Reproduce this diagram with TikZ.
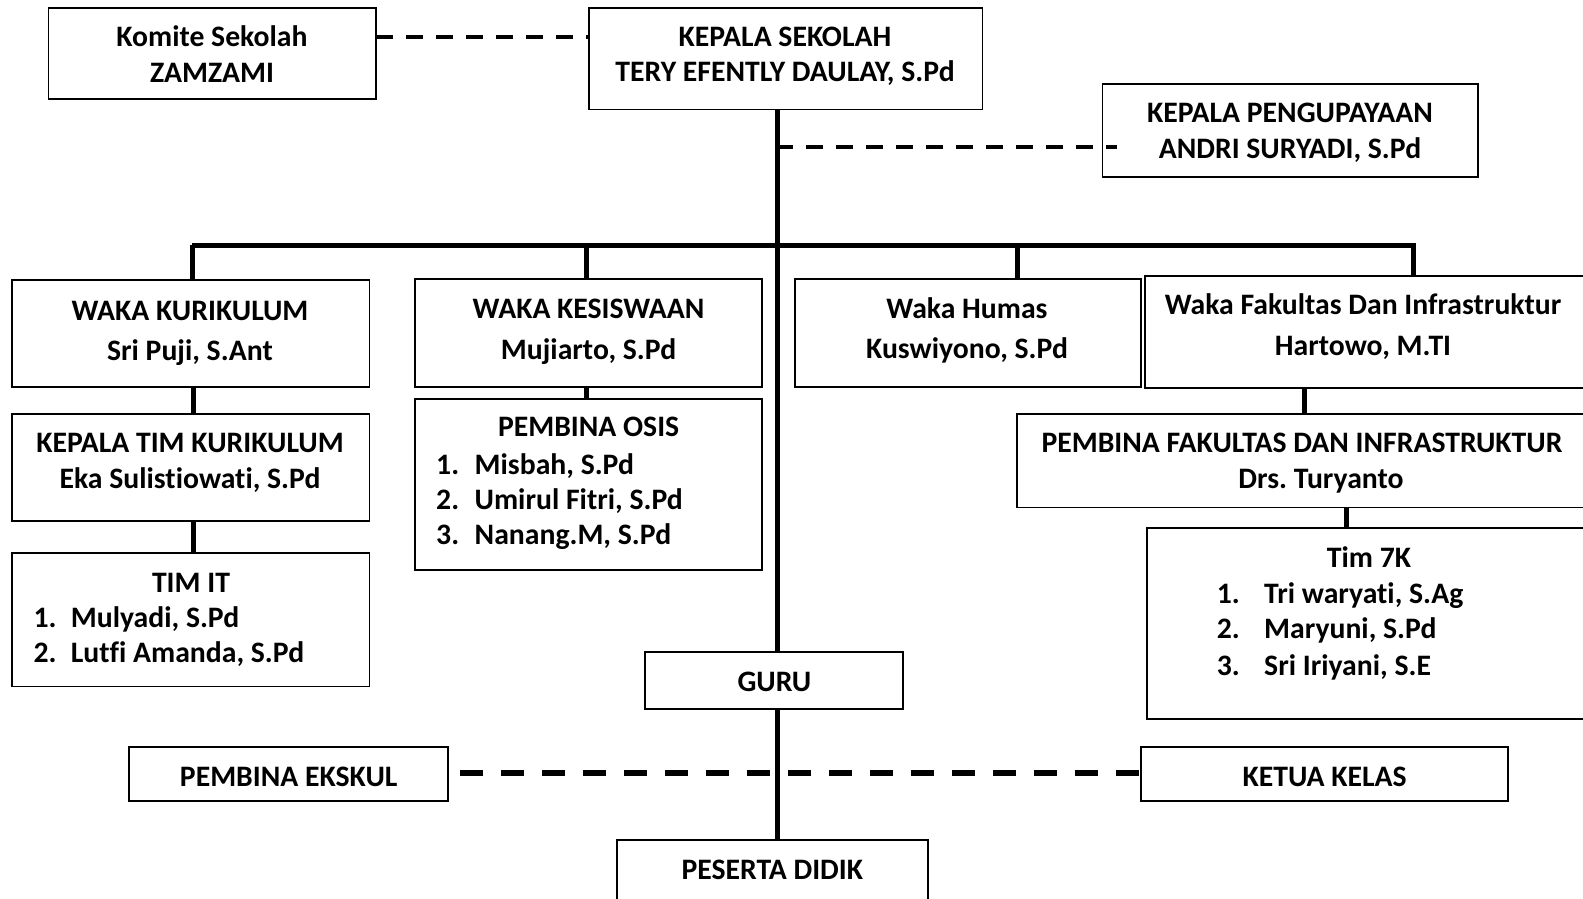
\documentclass[tikz,border=0pt]{standalone}
\usepackage{fontspec}
\setmainfont{Carlito}[Ligatures={NoCommon}]
\usetikzlibrary{calc}
\newcommand\obox[5]{\node[box, minimum width={#4-#2}, minimum height={#5-#3}] (#1) at ({(#2+#4)/2},{(#3+#5)/2}) {};}
\frenchspacing
\begin{document}
\begin{tikzpicture}[x=1pt,y=-1pt,
  box/.style={draw, line width=1.8pt, rectangle, inner sep=0pt, fill=white},
  txt/.style={font=\fontsize{29.7}{35}\selectfont\bfseries\frenchspacing, inner sep=0pt, anchor=base},
  txtl/.style={txt, anchor=base west},
  trunk/.style={line width=5pt},
  dashA/.style={line width=3.8pt, dash pattern=on 17pt off 13pt},
  dashB/.style={line width=6pt, dash pattern=on 23pt off 18pt}]
\clip (0,0) rectangle (1583,898);
\fill[white] (0,0) rectangle (1583,898);
% connectors first (boxes drawn over them)
\coordinate (bl) at (192,245);
\coordinate (br) at (1415.5,245);
\coordinate (b2) at (586.6,245);
\coordinate (b3) at (1017.7,245);
\coordinate (b4) at (1413.5,245);
\coordinate (t1) at (777.5,109.5);
\coordinate (t2) at (777.5,652);
\coordinate (t3) at (777.5,709);
\coordinate (t4) at (777.5,840);
\coordinate (tp) at (776,146.7);
\coordinate (kp0) at (1117,146.7);
\coordinate (pe0) at (460,773);
\coordinate (kk0) at (1141,773);
\coordinate (kom0) at (376,37);
\coordinate (ks0) at (589,37);
\draw[trunk] (t1) -- (t2);
\draw[trunk] (t3) -- (t4);
\draw[trunk] (bl) -- (br);
\draw[trunk] (bl) -- (192,279.7);
\draw[trunk] (b2) -- (586.6,278.6);
\draw[trunk] (b3) -- (1017.7,278.6);
\draw[trunk] (b4) -- (1413.5,275.7);
\draw[trunk] (193,386.7) -- (193,414);
\draw[trunk] (193,521) -- (193,553);
\draw[trunk] (586.6,386.7) -- (586.6,399);
\draw[trunk] (1304,387.7) -- (1304,414);
\draw[trunk] (1346,507.5) -- (1346,528);
\draw[dashB] (pe0) -- (kk0);
% boxes
\obox{kom}{48.5}{8}{375.6}{99}
\obox{ks}{588.6}{8}{982.5}{109.5}
\obox{kp}{1102.5}{84}{1478}{177}
\obox{wk}{12}{279.7}{369.5}{386.7}
\obox{wks}{415}{278.6}{762}{386.7}
\obox{wh}{794.6}{278.6}{1141}{386.7}
\obox{wf}{1145}{275.7}{1600}{387.7}
\obox{ktk}{12}{414}{369.5}{521}
\obox{tit}{12}{553}{369.5}{686.5}
\obox{osis}{415}{399}{762}{570}
\obox{pf}{1017}{414}{1600}{507.5}
\obox{t7}{1147}{528}{1600}{719}
\obox{guru}{645}{652}{903}{709}
\obox{pe}{129}{747}{448}{801}
\obox{kk}{1141}{747}{1508}{801}
\obox{pd}{617}{840}{928}{920}
% dashed links drawn over box edges
\draw[dashA] (tp) -- (kp0);
\draw[dashA] (kom0) -- (ks0);
% texts
\node[txt] (kom1) at (212,46) {Komite Sekolah};
\node[txt] (kom2) at (212,82.5) {ZAMZAMI};
\node[txt] (ks1) at (785,46) {KEPALA SEKOLAH};
\node[txt] (ks2) at (785,81.5) {TERY EFENTLY DAULAY, S.Pd};
\node[txt] (kp1) at (1290,122.8) {KEPALA PENGUPAYAAN};
\node[txt] (kp2) at (1290,158) {ANDRI SURYADI, S.Pd};
\node[txt] (wk1) at (190,320) {WAKA KURIKULUM};
\node[txt] (wk2) at (190,360) {Sri Puji, S.Ant};
\node[txt] (wks1) at (588.6,318.7) {WAKA KESISWAAN};
\node[txt] (wks2) at (588.6,359) {Mujiarto, S.Pd};
\node[txt] (wh1) at (967,318.7) {Waka Humas};
\node[txt] (wh2) at (967,358) {Kuswiyono, S.Pd};
\node[txt] (wf1) at (1363,314.7) {Waka Fakultas Dan Infrastruktur};
\node[txt] (wf2) at (1363,355) {Hartowo, M.TI};
\node[txt] (ktk1) at (190,452.9) {KEPALA TIM KURIKULUM};
\node[txt] (ktk2) at (190,488.2) {Eka Sulistiowati, S.Pd};
\node[txt] (tit0) at (191,592.2) {TIM IT};
\node[txtl] (tit1n) at (33.3,627.5) {1.};
\node[txtl] (tit1) at (70.7,627.5) {Mulyadi, S.Pd};
\node[txtl] (tit2n) at (33.3,662.9) {2.};
\node[txtl] (tit2) at (70.7,662.9) {Lutfi Amanda, S.Pd};
\node[txt] (os0) at (588.6,436.7) {PEMBINA OSIS};
\node[txtl] (os1n) at (436,474.1) {1.};
\node[txtl] (os1) at (474.5,474.1) {Misbah, S.Pd};
\node[txtl] (os2n) at (436,509.5) {2.};
\node[txtl] (os2) at (474.5,509.5) {Umirul Fitri, S.Pd};
\node[txtl] (os3n) at (436,544.7) {3.};
\node[txtl] (os3) at (474.5,544.7) {Nanang.M, S.Pd};
\node[txt] (pf1) at (1302,452.9) {PEMBINA FAKULTAS DAN INFRASTRUKTUR};
\node[txt] (pf2) at (1321,488.2) {Drs. Turyanto};
\node[txt] (t70) at (1369,567) {Tim 7K};
\node[txtl] (t71n) at (1216.6,603.3) {1.};
\node[txtl] (t71) at (1264,603.3) {Tri waryati, S.Ag};
\node[txtl] (t72n) at (1216.6,638.7) {2.};
\node[txtl] (t72) at (1264,638.7) {Maryuni, S.Pd};
\node[txtl] (t73n) at (1216.6,675) {3.};
\node[txtl] (t73) at (1264,675) {Sri Iriyani, S.E};
\node[txt] (guru1) at (774.4,691.2) {GURU};
\node[txt] (pe1) at (288.7,786.1) {PEMBINA EKSKUL};
\node[txt] (kk1) at (1324.6,786.1) {KETUA KELAS};
\node[txt] (pd1) at (772.3,879) {PESERTA DIDIK};
\end{tikzpicture}
\end{document}
